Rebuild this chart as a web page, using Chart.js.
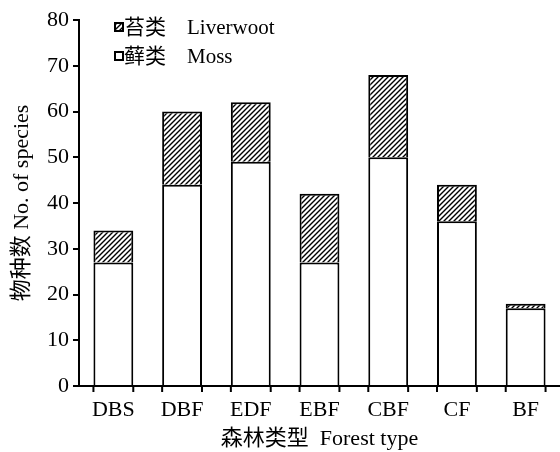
<!DOCTYPE html>
<html>
<head>
<meta charset="utf-8">
<script src="https://cdn.jsdelivr.net/npm/chart.js@4.4.1/dist/chart.umd.min.js"></script>
<style>
  html, body { margin: 0; padding: 0; background: #fff; }
  #wrap { width: 560px; height: 452px; }
</style>
</head>
<body>
<div id="wrap"><canvas id="grafico"></canvas></div>
<script>
// dados
const tiposFloresta = ['DBS', 'DBF', 'EDF', 'EBF', 'CBF', 'CF', 'BF'];
const musgo = [27, 44, 49, 27, 50, 36, 17];        // 藓类 Moss
const hepaticas = [7, 16, 13, 15, 18, 8, 1];       // 苔类 Liverwoot
const ticksY = [0, 10, 20, 30, 40, 50, 60, 70, 80];

const FONTE = '"Liberation Serif", "Times New Roman", "Noto Sans CJK SC", serif';

// padrão hachurado (linhas diagonais)
function criarHachura() {
    const c = document.createElement('canvas');
    c.width = 5; c.height = 5;
    const g = c.getContext('2d');
    g.fillStyle = '#fff';
    g.fillRect(0, 0, 5, 5);
    g.strokeStyle = '#000';
    g.lineWidth = 1.4;
    g.beginPath();
    g.moveTo(-1, 6); g.lineTo(6, -1);
    g.moveTo(-1, 1); g.lineTo(1, -1);
    g.moveTo(4, 6); g.lineTo(6, 4);
    g.stroke();
    return g.createPattern(c, 'repeat');
}
const hachura = criarHachura();

// legenda desenhada à mão no canto superior esquerdo
const legendaPlugin = {
    id: 'legendaManual',
    afterDraw(chart) {
        const ctx = chart.ctx;
        const itens = [
            { texto: '苔类\u3000Liverwoot', fundo: hachura, y: 27 },
            { texto: '藓类\u3000Moss', fundo: '#fff', y: 56 }
        ];
        ctx.save();
        itens.forEach(it => {
            ctx.fillStyle = it.fundo;
            ctx.fillRect(115, it.y - 4, 8, 8);
            ctx.strokeStyle = '#000';
            ctx.lineWidth = 2;
            ctx.strokeRect(115, it.y - 4, 8, 8);
            ctx.fillStyle = '#000';
            ctx.font = '21px ' + FONTE;
            ctx.textBaseline = 'middle';
            ctx.fillText(it.texto, 124, it.y + 1);
        });
        ctx.restore();
    }
};

// marquinhas do eixo x nas bordas de cada barra
const marcasXPlugin = {
    id: 'marcasX',
    afterDraw(chart) {
        const ctx = chart.ctx;
        const base = chart.chartArea.bottom;
        ctx.save();
        ctx.strokeStyle = '#000';
        ctx.lineWidth = 2;
        ctx.beginPath();
        chart.getDatasetMeta(0).data.forEach(bar => {
            const meia = bar.width / 2;
            [bar.x - meia, bar.x + meia].forEach(x => {
                ctx.moveTo(x, base);
                ctx.lineTo(x, base + 6);
            });
        });
        ctx.stroke();
        ctx.restore();
    }
};

new Chart(document.getElementById('grafico'), {
    type: 'bar',
    data: {
        labels: tiposFloresta,
        datasets: [
            {
                label: '藓类 Moss',
                data: musgo,
                backgroundColor: '#fff',
                borderColor: '#000',
                borderWidth: 2,
                borderSkipped: 'start'
            },
            {
                label: '苔类 Liverwoot',
                data: hepaticas,
                backgroundColor: hachura,
                borderColor: '#000',
                borderWidth: 2,
                borderSkipped: 'start'
            }
        ]
    },
    options: {
        responsive: true,
        maintainAspectRatio: false,
        animation: false,
        layout: { padding: { top: 20, right: 0, left: 0, bottom: 0 } },
        datasets: { bar: { barPercentage: 0.58, categoryPercentage: 1 } },
        plugins: {
            legend: { display: false },
            tooltip: { enabled: false }
        },
        scales: {
            x: {
                stacked: true,
                grid: { display: false },
                border: { display: true, color: '#000', width: 2 },
                ticks: { color: '#000', font: { family: FONTE, size: 22 }, padding: 3 },
                title: {
                    display: true,
                    text: '森林类型  Forest type',
                    color: '#000',
                    font: { family: FONTE, size: 22 },
                    padding: { top: 0, bottom: 0 }
                },
                afterFit(scale) { scale.height = 66; }
            },
            y: {
                stacked: true,
                min: 0,
                max: 80,
                afterBuildTicks(scale) { scale.ticks = ticksY.map(v => ({ value: v })); },
                grid: { drawOnChartArea: false, drawTicks: true, tickLength: 6, color: '#000', lineWidth: 2 },
                border: { display: true, color: '#000', width: 2 },
                ticks: { color: '#000', font: { family: FONTE, size: 22 }, padding: 4 },
                title: {
                    display: true,
                    text: '物种数 No. of species',
                    color: '#000',
                    font: { family: FONTE, size: 22 },
                    padding: { top: 9, bottom: 0 }
                },
                afterFit(scale) { scale.width = 79; }
            }
        }
    },
    plugins: [legendaPlugin, marcasXPlugin]
});
</script>
</body>
</html>
